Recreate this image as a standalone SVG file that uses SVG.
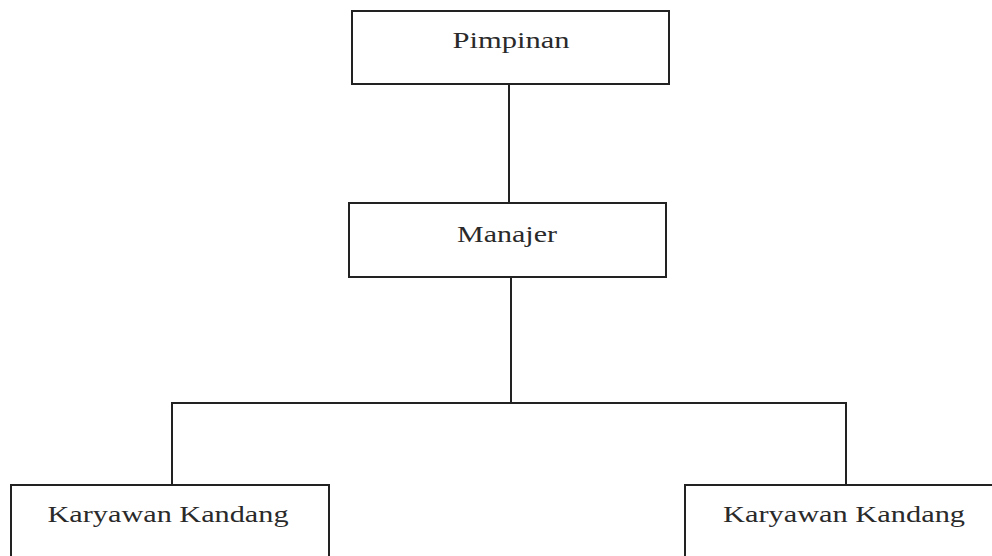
<svg xmlns="http://www.w3.org/2000/svg" width="992" height="556" viewBox="0 0 992 556">
<style>
.box{fill:#fff;stroke:#222;stroke-width:2}
.lbl{font-family:'Liberation Serif','Times New Roman',Tinos,serif;font-size:24px;fill:#2a2a2a;text-anchor:middle}
.con{fill:none;stroke:#222;stroke-width:2}
</style>
<rect width="992" height="556" fill="#fff"/>
<g id="connectors">
<line class="con" x1="509" y1="84" x2="509" y2="203"/>
<line class="con" x1="511" y1="277" x2="511" y2="403"/>
<polyline class="con" points="172,485 172,403 846,403 846,485"/>
</g>
<g id="pimpinan">
<rect class="box" x="352" y="11" width="317" height="73"/>
<text class="lbl" x="511" y="48" textLength="117" lengthAdjust="spacingAndGlyphs">Pimpinan</text>
</g>
<g id="manajer">
<rect class="box" x="349" y="203" width="317" height="74"/>
<text class="lbl" x="507" y="242" textLength="100" lengthAdjust="spacingAndGlyphs">Manajer</text>
</g>
<g id="karyawan1">
<rect class="box" x="11" y="485" width="318" height="90"/>
<text class="lbl" x="168" y="522" textLength="241" lengthAdjust="spacingAndGlyphs">Karyawan Kandang</text>
</g>
<g id="karyawan2">
<rect class="box" x="685" y="485" width="330" height="90"/>
<text class="lbl" x="844" y="522" textLength="242" lengthAdjust="spacingAndGlyphs">Karyawan Kandang</text>
</g>
</svg>
